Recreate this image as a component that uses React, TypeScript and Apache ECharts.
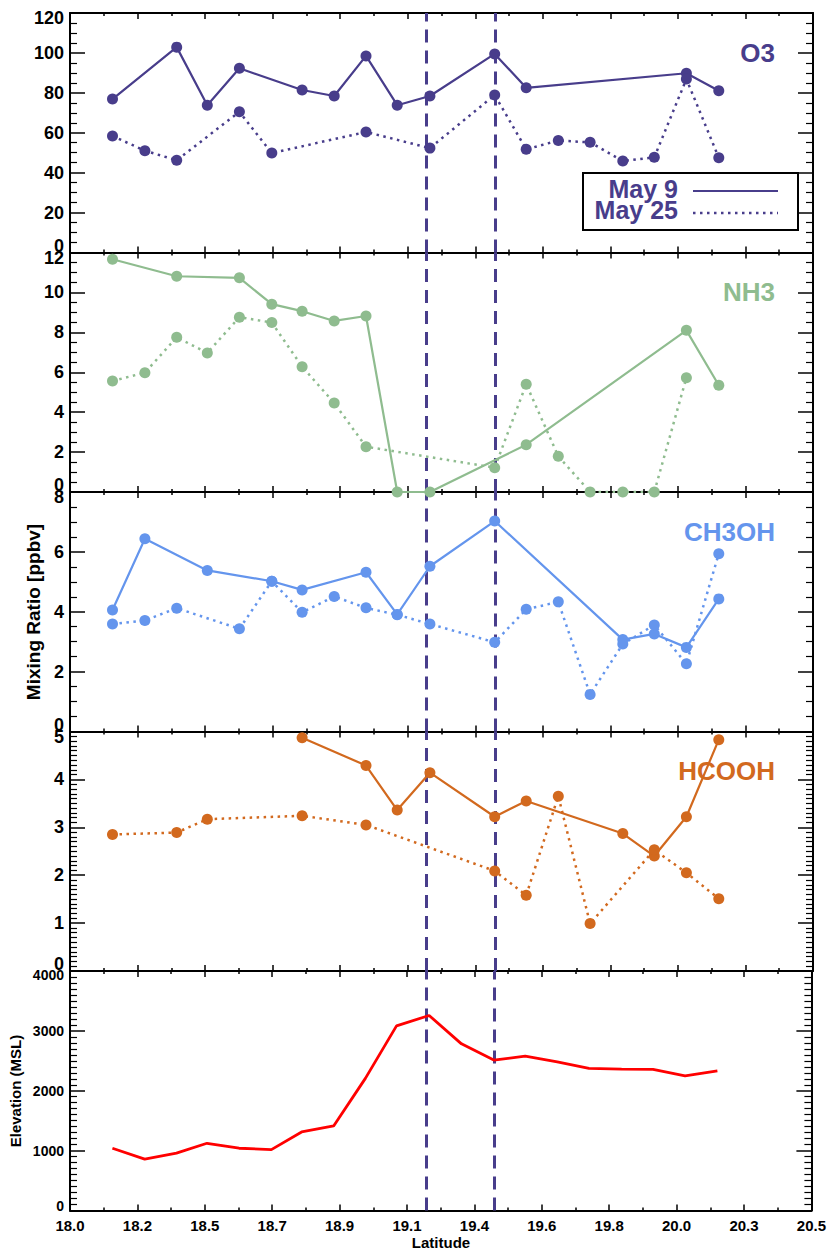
import React, { useEffect, useRef } from 'react';
import * as echarts from 'echarts';

// Sample latitudes along the flight track
const latitudes = [18.143, 18.252, 18.359, 18.462, 18.570, 18.679, 18.781, 18.889, 18.996, 19.101, 19.211, 19.320, 19.429, 19.535, 19.643, 19.750, 19.860, 19.966, 20.074, 20.183];

const o3May9 = [76.9, null, 102.9, 73.8, 92.3, null, 81.4, 78.4, 98.5, 73.8, 78.4, null, 99.5, 82.5, null, null, null, null, 89.8, 81.0];
const o3May25 = [58.4, 51.0, 46.2, null, 70.5, 49.8, null, null, 60.4, null, 52.3, null, 78.9, 51.7, 56.1, 55.2, 45.8, 47.7, 86.9, 47.5];
const nh3May9 = [11.66, null, 10.81, null, 10.73, 9.41, 9.06, 8.57, 8.82, 0, 0, null, null, 2.37, null, null, null, null, 8.10, 5.35];
const nh3May25 = [5.56, 5.98, 7.75, 6.97, 8.76, 8.49, 6.28, 4.46, 2.27, null, null, null, 1.22, 5.40, 1.79, 0, 0, 0, 5.73, null];
const ch3ohMay9 = [4.06, 6.44, null, 5.38, null, 5.02, 4.73, null, 5.32, 3.91, 5.52, null, 7.03, null, null, null, 3.07, 3.26, 2.81, 4.43];
const ch3ohMay25 = [3.59, 3.71, 4.12, null, 3.43, 5.02, 3.98, 4.51, 4.13, 3.90, 3.59, null, 2.98, 4.08, 4.33, 1.24, 2.92, 3.56, 2.26, 5.94];
const hcoohMay9 = [null, null, null, null, null, null, 4.87, null, 4.29, 3.36, 4.14, null, 3.22, 3.55, null, null, 2.87, 2.40, 3.22, 4.83];
const hcoohMay25 = [2.85, null, 2.89, 3.17, null, null, 3.24, null, 3.05, null, null, null, 2.09, 1.58, 3.65, 0.99, null, 2.53, 2.05, 1.51];
const elevation = [1040, 857, 957, 1123, 1040, 1017, 1312, 1412, 2207, 3083, 3257, 2783, 2512, 2578, 2483, 2373, 2362, 2357, 2250, 2333];

// Vertical dashed markers (latitude)
const sectionLats = [19.20, 19.43];

// Axis ranges
const xMin = 18.0;
const xMax = 20.5;
const xSteps = 11;

const legendLabels = ['May 9', 'May 25'];
const speciesNames = ['O3', 'NH3', 'CH3OH', 'HCOOH'];
const speciesColors = ['#483D8B', '#8FBC8F', '#6495ED', '#D2691E'];
const speciesMax = [120, 12, 8, 5];
const speciesInterval = [20, 2, 2, 1];
const speciesMinor = [4, 4, 4, 10];
const speciesMay9 = [o3May9, nh3May9, ch3ohMay9, hcoohMay9];
const speciesMay25 = [o3May25, nh3May25, ch3ohMay25, hcoohMay25];
const elevMax = 4000;
const elevInterval = 1000;

const FONT = '"Liberation Sans", Arial, Helvetica, sans-serif';
const DSB = '#483D8B';

const W = 829;
const H = 1252;
const LEFT = 70;
const RIGHT = 16;
const TOP0 = 13;
const PH = 239.5;

function pairs(vals: (number | null)[]) {
  return latitudes
    .map((x, i) => [x, vals[i]])
    .filter((p) => p[1] !== null);
}

function buildOption() {
  const grids: any[] = [];
  const xAxes: any[] = [];
  const yAxes: any[] = [];
  const series: any[] = [];
  const graphics: any[] = [];

  const nPanels = 5;
  for (let i = 0; i < nPanels; i++) {
    const top = TOP0 + i * PH;
    grids.push({ left: LEFT, right: RIGHT, top, height: PH, containLabel: false });
    const isLast = i === nPanels - 1;
    const baseX = {
      gridIndex: i,
      type: 'value',
      min: xMin,
      max: xMax,
      interval: (xMax - xMin) / xSteps,
      axisLine: { show: true, onZero: false, lineStyle: { color: '#000', width: 2 } },
      axisTick: { show: true, inside: true, length: 6, lineStyle: { color: '#000', width: 1.5 } },
      minorTick: { show: true, splitNumber: 2, length: 3, lineStyle: { color: '#000', width: 1.5 } },
      splitLine: { show: false },
    };
    xAxes.push({
      ...baseX,
      position: 'bottom',
      axisLabel: {
        show: isLast,
        margin: 7,
        fontSize: 15,
        fontWeight: 'bold',
        fontFamily: FONT,
        color: '#000',
        formatter: (v: number) => v.toFixed(1),
      },
    });
    xAxes.push({ ...baseX, position: 'top', axisLabel: { show: false } });

    const ymax = isLast ? elevMax : speciesMax[i];
    const yint = isLast ? elevInterval : speciesInterval[i];
    const minorSplit = isLast ? 10 : speciesMinor[i];
    const fs = isLast ? 14 : 18;
    const padHi = isLast ? 8 : 10;
    const padLo = isLast ? 10 : 14;
    const baseY = {
      gridIndex: i,
      type: 'value',
      min: 0,
      max: ymax,
      interval: yint,
      axisLine: { show: true, onZero: false, lineStyle: { color: '#000', width: 2 } },
      axisTick: { show: true, inside: true, length: 15, lineStyle: { color: '#000', width: 1.5 } },
      minorTick: { show: true, splitNumber: minorSplit, length: 7, lineStyle: { color: '#000', width: 1.2 } },
      splitLine: { show: false },
    };
    const richBase = { fontSize: fs, fontWeight: 'bold', fontFamily: FONT, color: '#000' };
    yAxes.push({
      ...baseY,
      position: 'left',
      axisLabel: {
        show: true,
        margin: 6,
        fontSize: fs,
        fontWeight: 'bold',
        fontFamily: FONT,
        color: '#000',
        formatter: (v: number) => {
          if (v === ymax) return `{hi|${v}}`;
          if (v === 0) return `{lo|${v}}`;
          return `{n|${v}}`;
        },
        rich: {
          hi: { ...richBase, padding: [padHi, 0, 0, 0] },
          lo: { ...richBase, padding: [0, 0, padLo, 0] },
          n: { ...richBase },
        },
      },
    });
    yAxes.push({ ...baseY, position: 'right', axisLabel: { show: false } });

    const markLine = {
      silent: true,
      symbol: ['none', 'none'],
      label: { show: false },
      lineStyle: { color: DSB, type: [13, 8], width: 3 },
      data: sectionLats.map((x) => ({ xAxis: x })),
      z: 1,
    };

    if (!isLast) {
      const color = speciesColors[i];
      series.push({
        name: `${speciesNames[i]} ${legendLabels[0]}`,
        type: 'line',
        xAxisIndex: 2 * i,
        yAxisIndex: 2 * i,
        data: pairs(speciesMay9[i]),
        symbol: 'circle',
        symbolSize: 11,
        showSymbol: true,
        lineStyle: { color, width: 2.2 },
        itemStyle: { color },
        markLine,
        z: 3,
      });
      series.push({
        name: `${speciesNames[i]} ${legendLabels[1]}`,
        type: 'line',
        xAxisIndex: 2 * i,
        yAxisIndex: 2 * i,
        data: pairs(speciesMay25[i]),
        symbol: 'circle',
        symbolSize: 11,
        showSymbol: true,
        lineStyle: { color, width: 2.5, type: [2.5, 4.5] },
        itemStyle: { color },
        z: 3,
      });
      graphics.push({
        type: 'text',
        x: 775,
        y: top + 39.5,
        style: {
          text: speciesNames[i],
          font: `bold 26px ${FONT}`,
          fill: color,
          textAlign: 'right',
          textVerticalAlign: 'middle',
        },
        z: 10,
      });
    } else {
      series.push({
        name: 'Elevation',
        type: 'line',
        xAxisIndex: 2 * i,
        yAxisIndex: 2 * i,
        data: pairs(elevation),
        showSymbol: false,
        symbol: 'none',
        lineStyle: { color: '#FF0000', width: 2.8 },
        markLine,
        z: 3,
      });
    }
  }

  // Axis titles
  graphics.push({
    type: 'text',
    x: 441,
    y: 1242,
    style: { text: 'Latitude', font: `bold 15px ${FONT}`, fill: '#000', textAlign: 'center', textVerticalAlign: 'middle' },
  });
  graphics.push({
    type: 'text',
    x: 33,
    y: 612,
    rotation: Math.PI / 2,
    style: { text: 'Mixing Ratio [ppbv]', font: `bold 19px ${FONT}`, fill: '#000', textAlign: 'center', textVerticalAlign: 'middle' },
  });
  graphics.push({
    type: 'text',
    x: 15,
    y: 1091,
    rotation: Math.PI / 2,
    style: { text: 'Elevation (MSL)', font: `bold 15px ${FONT}`, fill: '#000', textAlign: 'center', textVerticalAlign: 'middle' },
  });

  // Legend box
  graphics.push({
    type: 'group',
    z: 20,
    children: [
      { type: 'rect', shape: { x: 583, y: 173, width: 215, height: 57 }, style: { fill: '#fff', stroke: '#000', lineWidth: 2 } },
      { type: 'text', x: 678, y: 189, style: { text: legendLabels[0], font: `bold 25px ${FONT}`, fill: DSB, textAlign: 'right', textVerticalAlign: 'middle' } },
      { type: 'text', x: 678, y: 210, style: { text: legendLabels[1], font: `bold 25px ${FONT}`, fill: DSB, textAlign: 'right', textVerticalAlign: 'middle' } },
      { type: 'line', shape: { x1: 693, y1: 191, x2: 778, y2: 191 }, style: { stroke: DSB, lineWidth: 2 } },
      { type: 'line', shape: { x1: 693, y1: 213, x2: 778, y2: 213 }, style: { stroke: DSB, lineWidth: 2.5, lineDash: [2.5, 4.5] } },
    ],
  });

  return {
    animation: false,
    backgroundColor: '#fff',
    grid: grids,
    xAxis: xAxes,
    yAxis: yAxes,
    series,
    graphic: graphics,
  };
}

export default function App() {
  const ref = useRef<HTMLDivElement>(null);
  useEffect(() => {
    document.body.style.margin = '0';
    if (!ref.current) return;
    const chart = echarts.init(ref.current, null, { renderer: 'svg' });
    chart.setOption(buildOption() as any);
    return () => chart.dispose();
  }, []);
  return <div ref={ref} style={{ position: 'absolute', left: 0, top: 0, width: W, height: H }} />;
}
